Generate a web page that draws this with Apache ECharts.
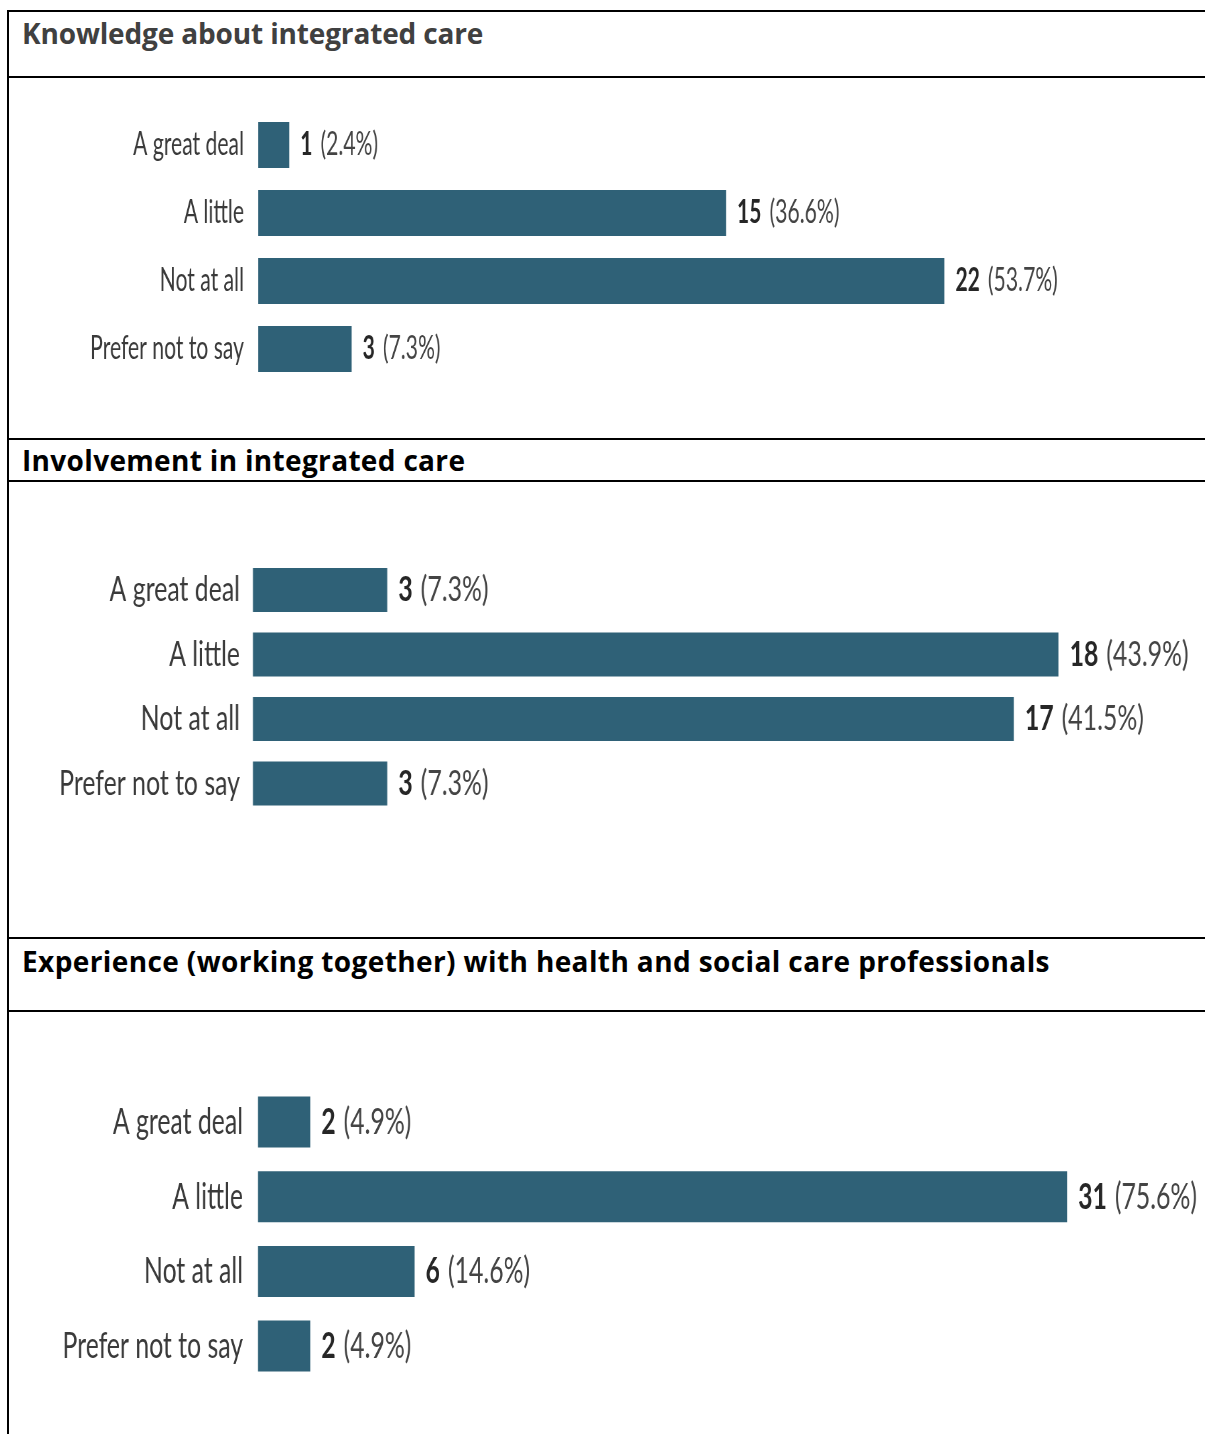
<!DOCTYPE html>
<html>
<head>
<meta charset="utf-8">
<script src="https://cdn.jsdelivr.net/npm/echarts@6/dist/echarts.min.js"></script>
<style>
  body { margin: 0; background: #fff; width: 1205px; height: 1434px; position: relative; overflow: hidden; font-family: "Open Sans", sans-serif; }
  .hl { position: absolute; left: 7px; right: 0; height: 2px; background: #000; }
  .vl { position: absolute; left: 7px; top: 10px; bottom: 0; width: 2px; background: #000; }
  .ttl { position: absolute; left: 22px; font-weight: 700; font-size: 28px; line-height: 28px; white-space: nowrap; color: #000; }
  .chart { position: absolute; left: 9px; transform-origin: 0 0; }
</style>
</head>
<body>
<div class="vl"></div>
<div class="hl" style="top:10px"></div>
<div class="hl" style="top:76px"></div>
<div class="hl" style="top:438px"></div>
<div class="hl" style="top:480px"></div>
<div class="hl" style="top:937px"></div>
<div class="hl" style="top:1010px"></div>

<div class="ttl" style="top:19px;color:#404040;letter-spacing:-0.15px">Knowledge about integrated care</div>
<div class="ttl" style="top:446px;letter-spacing:0.33px">Involvement in integrated care</div>
<div class="ttl" style="top:947px;letter-spacing:0.39px">Experience (working together) with health and social care professionals</div>

<div id="c1" class="chart"></div>
<div id="c2" class="chart"></div>
<div id="c3" class="chart"></div>

<script>
// 数据
const categories = ['A great deal', 'A little', 'Not at all', 'Prefer not to say'];
const knowledgeCounts = [1, 15, 22, 3];
const knowledgePct = ['2.4', '36.6', '53.7', '7.3'];
const involvementCounts = [3, 18, 17, 3];
const involvementPct = ['7.3', '43.9', '41.5', '7.3'];
const experienceCounts = [2, 31, 6, 2];
const experiencePct = ['4.9', '75.6', '14.6', '4.9'];

const barColor = '#2f6177';

// the source picture is squeezed horizontally, so each chart is drawn wide and scaled back on x
function drawBars(id, counts, pct, cfg) {
  const s = cfg.scale;
  const el = document.getElementById(id);
  el.style.top = cfg.top + 'px';
  el.style.height = cfg.height + 'px';
  el.style.width = ((1205 - 9) / s) + 'px';
  el.style.transform = 'scaleX(' + s + ')';
  const chart = echarts.init(el, null, { renderer: 'canvas' });
  const option = {
    animation: false,
    grid: {
      left: cfg.left / s,
      top: cfg.gridTop,
      width: cfg.max * cfg.ppu / s,
      height: cfg.gridHeight
    },
    xAxis: { type: 'value', min: 0, max: cfg.max, show: false },
    yAxis: {
      type: 'category',
      data: categories,
      inverse: true,
      axisLine: { show: false },
      axisTick: { show: false },
      axisLabel: {
        fontFamily: 'Lato',
        fontSize: cfg.fontSize,
        color: '#3a3a3a',
        margin: cfg.gap / s
      }
    },
    series: [{
      type: 'bar',
      data: counts,
      barWidth: cfg.barWidth,
      itemStyle: { color: barColor },
      label: {
        show: true,
        position: 'right',
        distance: 11 / s,
        formatter: p => '{b|' + p.value + '}{n|(' + pct[p.dataIndex] + '%)}',
        rich: {
          b: { fontFamily: 'Lato', fontWeight: 'bold', fontSize: cfg.fontSize, color: '#262626' },
          n: { fontFamily: 'Lato', fontSize: cfg.fontSize, color: '#444', padding: [0, 0, 0, 8 / s] }
        }
      }
    }]
  };
  chart.setOption(option, true);
}

drawBars('c1', knowledgeCounts, knowledgePct, {
  top: 78, height: 360, scale: 0.66, left: 249, ppu: 31.2, max: 30,
  gridTop: 33, gridHeight: 272, barWidth: 46, fontSize: 32, gap: 14
});
drawBars('c2', involvementCounts, involvementPct, {
  top: 482, height: 455, scale: 0.71, left: 244, ppu: 44.75, max: 21,
  gridTop: 75.75, gridHeight: 258, barWidth: 44, fontSize: 35, gap: 13
});
drawBars('c3', experienceCounts, experiencePct, {
  top: 1012, height: 422, scale: 0.67, left: 249, ppu: 26.1, max: 36,
  gridTop: 72.7, gridHeight: 298.7, barWidth: 51, fontSize: 37, gap: 15
});
</script>
</body>
</html>
